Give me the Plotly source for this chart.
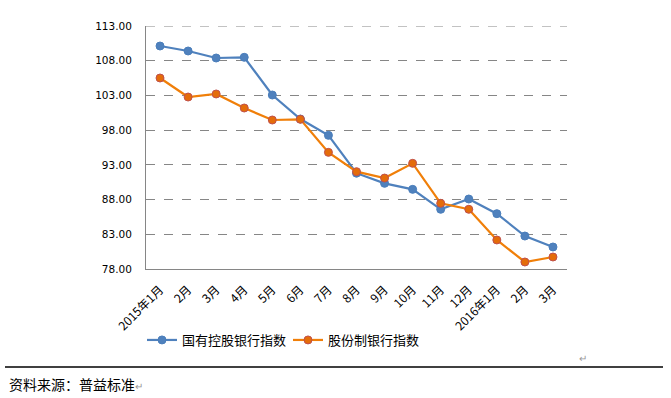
import plotly.graph_objects as go

months = ["2015年1月", "2月", "3月", "4月", "5月", "6月", "7月", "8月", "9月", "10月",
          "11月", "12月", "2016年1月", "2月", "3月"]
state_owned = [110.12, 109.40, 108.39, 108.49, 103.06, 99.60, 97.25, 91.80, 90.34, 89.47,
               86.60, 88.08, 85.97, 82.75, 81.17]
joint_stock = [105.51, 102.77, 103.21, 101.19, 99.46, 99.56, 94.80, 92.02, 91.10, 93.22,
               87.46, 86.60, 82.18, 79.01, 79.73]
y_ticks = [78, 83, 88, 93, 98, 103, 108, 113]

x_idx = list(range(len(months)))
num_font = "'DejaVu Sans', sans-serif"
cjk = "'Noto Sans CJK SC', sans-serif"

PW, PH = 421, 243  # plot area size in px

fig = go.Figure()
fig.add_trace(go.Scatter(
    x=x_idx, y=state_owned, mode="lines+markers", name="国有控股银行指数",
    line=dict(color="#4F81BD", width=2.2),
    marker=dict(color="#4F81BD", size=8, line=dict(color="#4A7EBB", width=1)),
))
fig.add_trace(go.Scatter(
    x=x_idx, y=joint_stock, mode="lines+markers", name="股份制银行指数",
    line=dict(color="#F07F09", width=2.2),
    marker=dict(color="#E46C0A", size=8, line=dict(color="#C0504D", width=1)),
))

fig.update_layout(
    width=671, height=398,
    margin=dict(l=146, r=104, t=26, b=129, autoexpand=False),
    paper_bgcolor="white", plot_bgcolor="white",
    showlegend=True,
    legend=dict(orientation="h", x=-4 / PW, y=-71 / PH, xanchor="left", yanchor="middle",
                font=dict(family=cjk, size=13, color="black"),
                bgcolor="rgba(0,0,0,0)", entrywidth=101, entrywidthmode="pixels",
                tracegroupgap=0),
    xaxis=dict(
        range=[-0.5, len(months) - 0.5],
        tickmode="array", tickvals=x_idx, ticktext=months,
        tickangle=-45, showgrid=False, zeroline=False,
        showline=True, linecolor="#868686", linewidth=1,
        ticks="", ticklabelstandoff=8,
        tickfont=dict(family=cjk, size=12, color="black"),
    ),
    yaxis=dict(
        range=[78, 113], tickmode="array", tickvals=y_ticks,
        ticktext=[f"{v:.2f}" for v in y_ticks],
        showgrid=True, gridcolor="#868686", griddash="dash", gridwidth=1,
        zeroline=False, showline=True, linecolor="#868686", linewidth=1,
        ticks="", ticklabelstandoff=11,
        tickfont=dict(family=num_font, size=10.5, color="black"),
    ),
)

# dashed gridline at the top value (plotly omits it at the range edge)
fig.add_shape(type="line", xref="paper", yref="y", x0=0, x1=1, y0=y_ticks[-1], y1=y_ticks[-1],
              line=dict(color="#868686", width=1, dash="dash"), layer="below")

fig.add_shape(type="line", xref="paper", yref="paper",
              x0=-141 / PW, x1=517 / PW, y0=-98 / PH, y1=-98 / PH,
              line=dict(color="black", width=1.5))
fig.add_annotation(xref="paper", yref="paper", x=-139 / PW, y=-115 / PH,
                   xanchor="left", yanchor="middle", showarrow=False,
                   text="资料来源：普益标准<span style='color:#999;font-size:10px'>↵</span>",
                   font=dict(family=cjk, size=14, color="black"))
fig.add_annotation(xref="paper", yref="paper", x=431 / PW, y=-88 / PH,
                   xanchor="left", yanchor="middle", showarrow=False,
                   text="↵", font=dict(family=cjk, size=10, color="#999"))

fig.write_html("out.html", config={"displayModeBar": False},
               post_script="document.body.style.margin='0';document.body.style.overflow='hidden';")
